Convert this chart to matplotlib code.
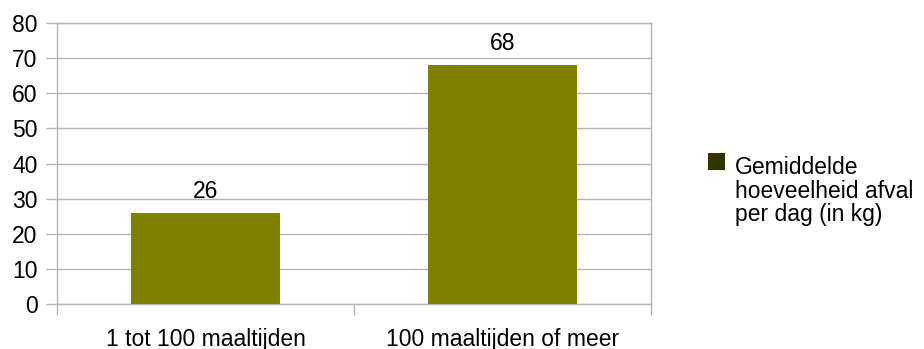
import matplotlib
matplotlib.use("Agg")
import matplotlib.pyplot as plt
from matplotlib.patches import Rectangle

plt.rcParams['font.family'] = ['Liberation Sans', 'DejaVu Sans']

categories = ["1 tot 100 maaltijden", "100 maaltijden of meer"]
values = [26, 68]
series_name = "Gemiddelde\nhoeveelheid afval\nper dag (in kg)"
yticks = [0, 10, 20, 30, 40, 50, 60, 70, 80]

FS = 16.5
fig = plt.figure(figsize=(9.24, 3.49), dpi=100)
ax = fig.add_axes([57/924, 1 - 304/349, (651 - 57)/924, (304 - 23)/349])

x = list(range(len(categories)))
ax.bar(x, values, width=0.5, color="#808000", zorder=3)
for xi, v in zip(x, values):
    ax.annotate(str(v), (xi, v), xytext=(0, 7), textcoords="offset points",
                ha="center", va="bottom", fontsize=FS, color="#000000")

ax.set_xlim(-0.5, len(categories) - 0.5)
ax.set_ylim(0, 80)
ax.set_yticks(yticks)
ax.set_yticklabels([str(t) for t in yticks], fontsize=FS)
ax.yaxis.grid(True, color="#b3b3b3", linewidth=1.0, zorder=0)
ax.tick_params(axis="y", length=8, width=1.0, color="#b3b3b3", pad=6)

# category labels centred under each bar, tick marks on category boundaries
ax.set_xticks([-0.5, 0.5, 1.5])
ax.set_xticklabels([])
ax.tick_params(axis="x", length=8, width=1.0, color="#b3b3b3")
for xi, c in zip(x, categories):
    ax.annotate(c, (xi, 0), xycoords=("data", "axes fraction"), xytext=(0, -17),
                textcoords="offset points", ha="center", va="top", fontsize=FS)

for s in ax.spines.values():
    s.set_color("#b3b3b3")
    s.set_linewidth(1.0)

# legend: swatch next to the first line of the series name
fig.add_artist(Rectangle((708/924, 1 - 170/349), 17/924, 17/349, transform=fig.transFigure,
                         facecolor="#333300", edgecolor="none"))
fig.text(735/924, 1 - 156/349, series_name, ha="left", va="top", fontsize=FS, linespacing=1.03)

fig.savefig("out.png", dpi=100)
